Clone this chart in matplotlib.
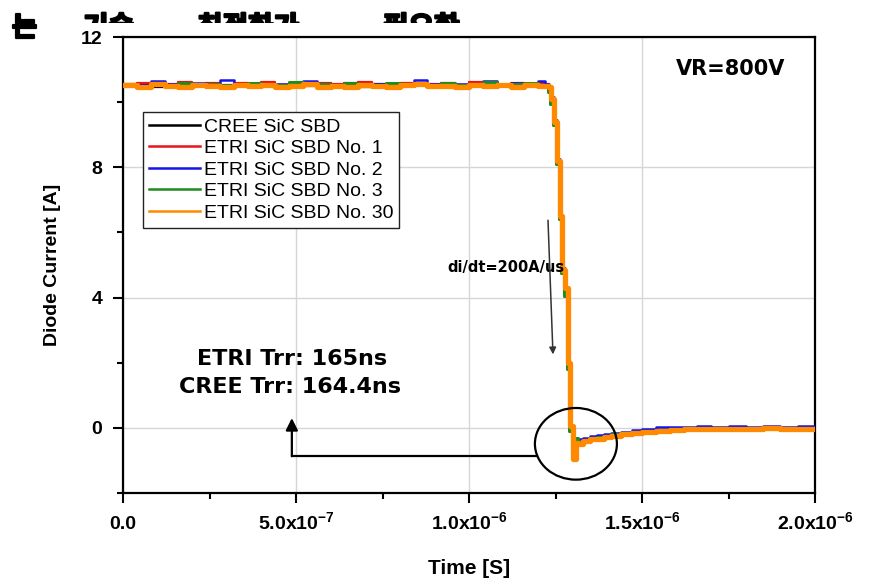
import matplotlib
matplotlib.use("Agg")
import matplotlib.pyplot as plt
import matplotlib.patheffects as pe
from matplotlib.patches import Ellipse
from matplotlib.transforms import Bbox, TransformedBbox

plt.rcParams['font.family'] = ['Liberation Sans', 'DejaVu Sans']
plt.rcParams['mathtext.fontset'] = 'custom'
plt.rcParams['mathtext.rm'] = 'Liberation Sans:bold'
plt.rcParams['mathtext.bf'] = 'Liberation Sans:bold'
plt.rcParams['mathtext.it'] = 'Liberation Sans:bold:italic'
plt.rcParams['mathtext.default'] = 'rm'

# ---- data (time in ns, current in A) ----
t_ns = [0, 40, 80, 120, 160, 200, 240, 280, 320, 360, 400, 440, 480, 520, 560,
        600, 640, 680, 720, 760, 800, 840, 880, 920, 960, 1000, 1040, 1080, 1120,
        1160, 1200, 1220, 1230, 1238, 1246, 1254, 1262, 1270, 1278, 1286, 1292,
        1302, 1308, 1316, 1330, 1350, 1370, 1390, 1410, 1440, 1470, 1500, 1540,
        1580, 1620, 1660, 1700, 1750, 1800, 1850, 1900, 1950, 2000]

# ETRI No. 3 triggers a few ns earlier
t_green_ns = [0, 40, 80, 120, 160, 200, 240, 280, 320, 360, 400, 440, 480, 520, 560,
              600, 640, 680, 720, 760, 800, 840, 880, 920, 960, 1000, 1040, 1080, 1120,
              1160, 1200, 1217, 1227, 1235, 1243, 1251, 1259, 1267, 1275, 1283, 1289,
              1299, 1305, 1314, 1330, 1350, 1370, 1390, 1410, 1440, 1470, 1500, 1540,
              1580, 1620, 1660, 1700, 1750, 1800, 1850, 1900, 1950, 2000]

cree = [10.50, 10.54, 10.47, 10.52, 10.49, 10.55, 10.48, 10.51, 10.53, 10.46, 10.50,
        10.54, 10.49, 10.52, 10.47, 10.53, 10.50, 10.48, 10.55, 10.51, 10.49, 10.53,
        10.47, 10.52, 10.50, 10.54, 10.48, 10.51, 10.53, 10.49, 10.51,
        10.50, 10.42, 10.05, 9.35, 8.15, 6.45, 4.80, 4.10, 1.85, -0.05, -0.92, -0.45,
        -0.47, -0.40, -0.36, -0.31, -0.27, -0.24, -0.19, -0.15, -0.11, -0.08, -0.05,
        -0.04, -0.02, -0.03, -0.01, -0.02, 0.00, -0.02, -0.01, -0.01]

etri1 = [10.55, 10.60, 10.52, 10.57, 10.61, 10.54, 10.58, 10.53, 10.59, 10.56, 10.62,
         10.54, 10.57, 10.51, 10.60, 10.55, 10.58, 10.63, 10.53, 10.57, 10.60, 10.52,
         10.56, 10.59, 10.54, 10.61, 10.55, 10.52, 10.58, 10.56, 10.60,
         10.55, 10.45, 10.12, 9.42, 8.22, 6.52, 4.88, 4.25, 1.95, 0.02, -0.90, -0.42,
         -0.45, -0.38, -0.32, -0.30, -0.25, -0.22, -0.18, -0.13, -0.10, -0.06, -0.04,
         -0.02, 0.00, -0.01, 0.01, -0.02, 0.00, 0.01, -0.01, 0.00]

etri2 = [10.56, 10.52, 10.66, 10.55, 10.51, 10.58, 10.54, 10.69, 10.53, 10.57, 10.52,
         10.56, 10.50, 10.65, 10.55, 10.53, 10.58, 10.51, 10.56, 10.54, 10.52, 10.67,
         10.55, 10.53, 10.57, 10.51, 10.64, 10.54, 10.58, 10.52, 10.66,
         10.56, 10.48, 10.15, 9.45, 8.25, 6.55, 4.90, 4.20, 1.90, 0.00, -0.85, -0.35,
         -0.33, -0.30, -0.26, -0.22, -0.20, -0.15, -0.12, -0.08, -0.05, 0.02, 0.04,
         0.03, 0.06, 0.04, 0.05, 0.03, 0.06, 0.04, 0.05, 0.03]

etri3 = [10.56, 10.51, 10.58, 10.53, 10.60, 10.52, 10.57, 10.54, 10.50, 10.59, 10.55,
         10.52, 10.61, 10.54, 10.57, 10.51, 10.58, 10.55, 10.52, 10.60, 10.54, 10.56,
         10.50, 10.58, 10.53, 10.57, 10.61, 10.52, 10.55, 10.59, 10.54,
         10.48, 10.30, 9.95, 9.30, 8.10, 6.40, 4.75, 4.05, 1.80, -0.10, -0.85, -0.30,
         -0.42, -0.36, -0.33, -0.27, -0.25, -0.20, -0.17, -0.12, -0.09, -0.07, -0.03,
         -0.05, -0.02, -0.04, -0.03, -0.05, -0.02, -0.04, -0.03, -0.02]

etri30 = [10.52, 10.48, 10.55, 10.50, 10.46, 10.53, 10.51, 10.47, 10.54, 10.49, 10.52,
          10.45, 10.50, 10.56, 10.48, 10.51, 10.47, 10.53, 10.50, 10.46, 10.52, 10.55,
          10.49, 10.51, 10.47, 10.53, 10.50, 10.54, 10.48, 10.52, 10.49,
          10.50, 10.45, 10.10, 9.40, 8.20, 6.50, 4.85, 4.30, 2.00, 0.05, -0.95, -0.45,
          -0.50, -0.40, -0.35, -0.33, -0.28, -0.25, -0.20, -0.16, -0.12, -0.10, -0.07,
          -0.05, -0.03, -0.04, -0.02, -0.03, -0.01, -0.03, -0.02, -0.02]

series_labels = ['CREE SiC SBD', 'ETRI SiC SBD No. 1', 'ETRI SiC SBD No. 2',
                 'ETRI SiC SBD No. 3', 'ETRI SiC SBD No. 30']
series_colors = ['#000000', '#e8141c', '#1414e6', '#1f8a1f', '#ff8a00']

x_ticks = [0, 5e-7, 1e-6, 1.5e-6, 2e-6]
x_tick_labels = ['0.0', r'5.0x10$^{-7}$', r'1.0x10$^{-6}$', r'1.5x10$^{-6}$', r'2.0x10$^{-6}$']
y_ticks = [0, 4, 8, 12]

fig = plt.figure(figsize=(8.74, 5.80), dpi=100, facecolor='white')
ax = fig.add_axes([123 / 874, 1 - 493 / 580, 692 / 874, 456 / 580])

t = [v * 1e-9 for v in t_ns]
t_g = [v * 1e-9 for v in t_green_ns]
data = [(t, cree, 1.6), (t, etri1, 1.6), (t, etri2, 1.8), (t_g, etri3, 2.2), (t, etri30, 3.8)]
for (tt, yy, lw), lab, col in zip(data, series_labels, series_colors):
    ax.plot(tt, yy, color=col, lw=lw, drawstyle='steps-post', label=lab, zorder=3)

ax.set_xlim(0, 2e-6)
ax.set_ylim(-2, 12)
ax.set_xticks(x_ticks)
ax.set_xticklabels(x_tick_labels)
ax.set_xticks([2.5e-7, 7.5e-7, 1.25e-6, 1.75e-6], minor=True)
ax.set_yticks(y_ticks)
ax.set_yticks([-2, 2, 6, 10], minor=True)

ax.grid(True, which='major', color='#d6d6d6', lw=1)
ax.set_axisbelow(True)
for s in ax.spines.values():
    s.set_linewidth(1.6)
ax.tick_params(which='major', direction='out', length=7, width=1.5, labelsize=14, pad=8)
ax.tick_params(which='minor', direction='out', length=4, width=1.5)
ax.tick_params(axis='x', which='major', pad=19)
for lb in ax.get_xticklabels():
    lb.set_fontweight('bold')
    lb.set_verticalalignment('baseline')
for lb in ax.get_yticklabels():
    lb.set_fontweight('bold')

ax.set_xlabel('Time [S]', fontsize=15, fontweight='bold', labelpad=19)
ax.set_ylabel('Diode Current [A]', fontsize=14, fontweight='bold', labelpad=14)

leg = ax.legend(loc='upper left', bbox_to_anchor=(0.029, 0.836), frameon=True,
                fancybox=False, edgecolor='#222222', framealpha=1,
                prop={'family': 'Liberation Sans', 'size': 14},
                handlelength=2.6, handletextpad=0.2, labelspacing=0.2,
                borderpad=0.32, borderaxespad=0)
leg.get_frame().set_linewidth(1.0)
for ln in leg.get_lines():
    ln.set_linewidth(1.8)

# annotations
ax.text(1.757e-6, 11.02, 'VR=800V', fontsize=15, fontweight='bold',
        family='DejaVu Sans', ha='center', va='center')
ax.text(1.107e-6, 4.93, 'di/dt=200A/us', fontsize=10.5, fontweight='bold',
        family='DejaVu Sans', ha='center', va='center')
ax.annotate('', xy=(1.243e-6, 2.17), xytext=(1.228e-6, 6.46),
            arrowprops=dict(arrowstyle='-|>', lw=1.1, color='#333333', mutation_scale=10))

ax.text(4.88e-7, 2.11, 'ETRI Trr: 165ns', fontsize=16, fontweight='bold',
        family='DejaVu Sans', ha='center', va='center')
ax.text(4.82e-7, 1.25, 'CREE Trr: 164.4ns', fontsize=16, fontweight='bold',
        family='DejaVu Sans', ha='center', va='center')

ax.add_patch(Ellipse((1.309e-6, -0.49), 2.37e-7, 2.2, fill=False, lw=1.6,
                     edgecolor='black', zorder=4))
ax.plot([1.197e-6, 4.88e-7], [-0.857, -0.857], color='black', lw=1.6, zorder=4)
ax.annotate('', xy=(4.88e-7, 0.30), xytext=(4.88e-7, -0.87),
            arrowprops=dict(arrowstyle='-|>', lw=1.6, color='black', mutation_scale=18,
                            shrinkA=0, shrinkB=0), zorder=4)

# clipped line of document text above the chart
kfont = 'Noto Sans CJK KR'
heavy = [pe.withStroke(linewidth=1.6, foreground='black')]
fig.text(12 / 874, 1 - 36 / 580, '는', fontsize=20, fontweight='bold', family=kfont,
         va='baseline', path_effects=heavy)
clip = TransformedBbox(Bbox([[0, 1 - 23 / 580], [1, 1]]), fig.transFigure)
for word, xpx in [('기술', 83), ('최적화가', 197), ('필요한', 383)]:
    tx = fig.text(xpx / 874, 1 - 36 / 580, word, fontsize=20, fontweight='bold',
                  family=kfont, va='baseline', path_effects=heavy)
    tx.set_clip_box(clip)
    tx.set_clip_on(True)

fig.savefig('out.png', dpi=100)
